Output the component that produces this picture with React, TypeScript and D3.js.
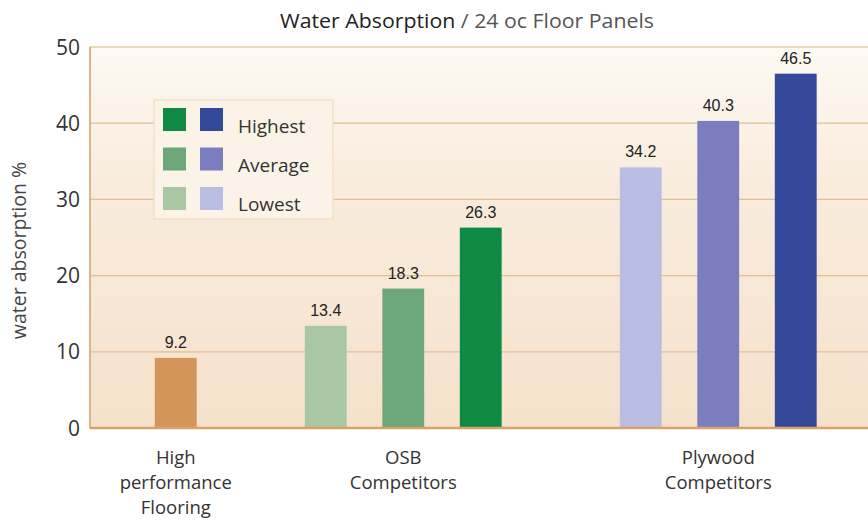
import React from "react";
import * as d3 from "d3";

const title1 = "Water Absorption";
const title2 = " / 24 oc Floor Panels";
const yTicks = [0, 10, 20, 30, 40, 50];
const yLabel = "water absorption %";

// bar slots (gaps keep groups apart)
const slots = ["hp", "g1", "osbL", "osbA", "osbH", "g2", "plyL", "plyA", "plyH"];
const barKeys = ["hp", "osbL", "osbA", "osbH", "plyL", "plyA", "plyH"];
const barValues = [9.2, 13.4, 18.3, 26.3, 34.2, 40.3, 46.5];
const barColors = ["#d4955a", "#a9c7a3", "#6ca779", "#0e8a45", "#b9bde2", "#7a7ebe", "#34499a"];

const categoryNames = [["High", "performance", "Flooring"], ["OSB", "Competitors"], ["Plywood", "Competitors"]];
const categoryAnchors = ["hp", "osbA", "plyA"];

const legendLabels = ["Highest", "Average", "Lowest"];
const legendGreens = ["#0e8a45", "#6ca779", "#a9c7a3"];
const legendBlues = ["#34499a", "#7a7ebe", "#b9bde2"];

export default function App() {
  const W = 868, H = 520;
  const left = 90, top = 47, bottom = 428, right = 880;
  const y = d3.scaleLinear().domain([0, 50]).range([bottom, top]);
  const x = d3.scaleBand().domain(slots).range([137, 834.5]).paddingInner(0.46).paddingOuter(0.23);
  const font = "'Open Sans', sans-serif";
  const shiftOsb = (k: string) => (k.startsWith("osb") ? -5 : 0);

  return (
    <svg width={W} height={H} style={{ position: "absolute", left: 0, top: 0, display: "block" }}>
      <defs>
        <linearGradient id="bg" x1="0" y1="0" x2="0" y2="1">
          <stop offset="0" stopColor="#fdf9f3" />
          <stop offset="0.35" stopColor="#f9ecdd" />
          <stop offset="1" stopColor="#f5e1cb" />
        </linearGradient>
      </defs>
      <rect x={0} y={0} width={W} height={H} fill="#fff" />
      <text x={467} y={28} textAnchor="middle" fontFamily={font} fontSize={20} fill="#444" textLength={374} lengthAdjust="spacingAndGlyphs">
        <tspan fill="#222">{title1}</tspan>
        <tspan fill="#555">{title2}</tspan>
      </text>
      <rect x={left} y={top} width={right - left} height={bottom - top} fill="url(#bg)" stroke="#e6cfa8" strokeWidth={1.5} />
      {yTicks.filter((t) => t > 0 && t < 50).map((t) => (
        <line key={t} x1={left} x2={right} y1={y(t)} y2={y(t)} stroke="#e2bf92" strokeWidth={1.3} />
      ))}
      <line x1={left} x2={left} y1={top} y2={bottom} stroke="#d8b58a" strokeWidth={2} />
      {yTicks.map((t) => (
        <text key={t} x={80} y={y(t)} dy="0.36em" textAnchor="end" fontFamily={font} fontSize={21} fill="#333">{t}</text>
      ))}
      <text transform={`translate(26,${(top + bottom) / 2 + 13}) rotate(-90)`} textAnchor="middle" fontFamily={font} fontSize={19.5} fill="#444">{yLabel}</text>

      {barKeys.map((k, i) => (
        <g key={k}>
          <rect x={x(k)! + shiftOsb(k)} y={y(barValues[i])} width={x.bandwidth()} height={bottom - y(barValues[i])} fill={barColors[i]} />
          <text x={x(k)! + shiftOsb(k) + x.bandwidth() / 2} y={y(barValues[i]) - 10} textAnchor="middle" fontFamily="'Liberation Sans', Arial, sans-serif" fontSize={16} fill="#222">{barValues[i]}</text>
        </g>
      ))}
      <line x1={left} x2={right} y1={bottom} y2={bottom} stroke="#d9a266" strokeWidth={2.5} />

      {categoryNames.map((lines, ci) =>
        lines.map((ln, li) => (
          <text key={`${ci}-${li}`} x={x(categoryAnchors[ci])! + x.bandwidth() / 2 + shiftOsb(categoryAnchors[ci])} y={464 + li * 25} textAnchor="middle" fontFamily={font} fontSize={18.5} fill="#333" textLength={ln.length * 0 || undefined}>{ln}</text>
        ))
      )}

      <g>
        <rect x={154} y={100} width={179} height={119} fill="#fbf3e8" stroke="#ecd9b8" strokeWidth={1} />
        {legendLabels.map((lb, i) => (
          <g key={lb}>
            <rect x={163} y={108 + i * 39.5} width={23} height={23} fill={legendGreens[i]} />
            <rect x={200} y={108 + i * 39.5} width={23} height={23} fill={legendBlues[i]} />
            <text x={238} y={133 + i * 39} fontFamily={font} fontSize={19} fill="#333">{lb}</text>
          </g>
        ))}
      </g>
    </svg>
  );
}
